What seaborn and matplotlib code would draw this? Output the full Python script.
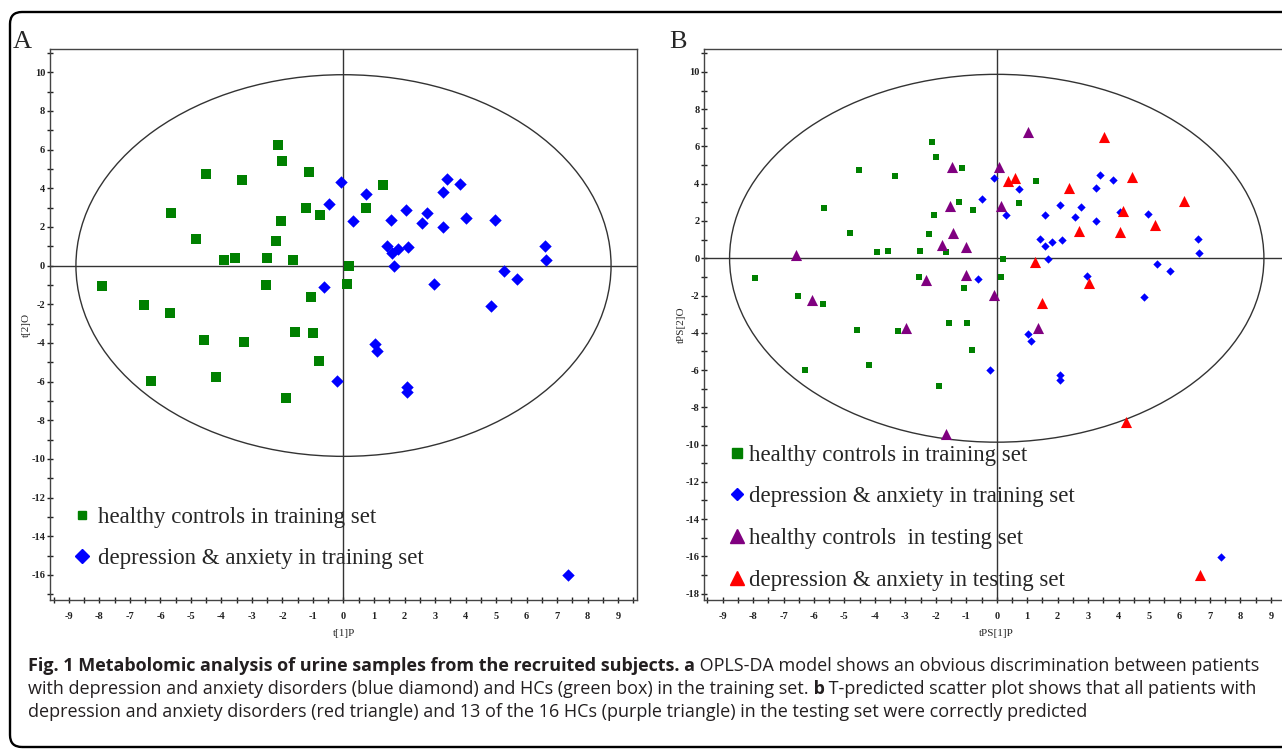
import numpy as np
import pandas as pd
import matplotlib
matplotlib.use('Agg')
import matplotlib.pyplot as plt
import seaborn as sns
from matplotlib.patches import Ellipse, FancyBboxPatch
from matplotlib.lines import Line2D
from matplotlib.text import Annotation
from matplotlib.ticker import MultipleLocator
from matplotlib.transforms import IdentityTransform

# scores (training set is the same in both panels)
hc_train_x = [-2.14, -2.0, -4.52, -3.34, -1.13, -5.67, -1.24, -0.77, -2.06, -4.83,
              -2.22, -3.93, -3.56, -2.51, -1.67, -7.93, -2.54, -1.08, -6.54, -5.69,
              -1.58, -0.99, -4.58, -3.25, -0.80, -6.31, -4.18, -1.89, 1.28, 0.73,
              0.19, 0.13]
hc_train_y = [6.22, 5.43, 4.71, 4.41, 4.84, 2.72, 3.0, 2.6, 2.31, 1.35,
              1.29, 0.31, 0.41, 0.41, 0.31, -1.05, -1.0, -1.62, -2.03, -2.43,
              -3.45, -3.50, -3.85, -3.93, -4.92, -5.97, -5.74, -6.87, 4.17, 2.95,
              -0.02, -0.98]
da_train_x = [-0.09, -0.47, -0.63, 0.74, 0.30, 1.57, 2.06, 2.75, 2.56, 3.25,
              3.40, 3.83, 3.25, 4.03, 4.96, 1.42, 1.80, 2.13, 1.58, 1.67,
              6.61, 6.63, 5.25, 5.69, 2.97, 4.83, 1.03, 1.11, -0.22, 2.09,
              2.09, 7.37]
da_train_y = [4.33, 3.19, -1.11, 3.71, 2.31, 2.34, 2.88, 2.74, 2.2, 1.98,
              4.48, 4.2, 3.78, 2.48, 2.38, 1.01, 0.88, 0.96, 0.67, -0.02,
              1.01, 0.29, -0.29, -0.69, -0.93, -2.07, -4.07, -4.43, -5.97, -6.29,
              -6.54, -16.02]
hc_test_x = [-1.46, -1.54, -1.43, -1.81, -1.0, -6.60, -2.31, -1.0, -6.05, -2.97,
             -1.68, 1.03, 0.07, 0.14, -0.1, 1.37]
hc_test_y = [4.92, 2.81, 1.34, 0.71, 0.62, 0.16, -1.16, -0.9, -2.24, -3.76,
             -9.45, 6.8, 4.88, 2.82, -1.95, -3.72]
da_test_x = [3.52, 0.37, 0.59, 2.37, 4.44, 6.14, 4.13, 5.18, 2.70, 4.05,
             1.25, 3.03, 1.47, 4.24, 6.67]
da_test_y = [6.53, 4.15, 4.29, 3.79, 4.38, 3.09, 2.56, 1.79, 1.47, 1.40,
             -0.22, -1.34, -2.42, -8.8, -17.0]

# Hotelling T2 ellipse half-axes
ell_x = 8.77
ell_y = 9.87

labels = ['healthy controls in training set', 'depression & anxiety in training set',
          'healthy controls  in testing set', 'depression & anxiety in testing set']
colors = ['#008000', '#0000ff', '#800080', '#ff0000']

sns.set_style('white')
plt.rcParams['font.family'] = ['Liberation Serif', 'DejaVu Serif']
plt.rcParams['axes.unicode_minus'] = False

W, H = 1282, 749
fig = plt.figure(figsize=(W / 100, H / 100), dpi=100)


def px_axes(left, right, top, bottom):
    return fig.add_axes([left / W, 1 - bottom / H, (right - left) / W, (bottom - top) / H])


def style_axes(ax, xl, yl, xlabel, ylabel):
    ax.set_xlim(*xl)
    ax.set_ylim(*yl)
    ax.axhline(0, color='#333333', lw=1, zorder=1)
    ax.axvline(0, color='#333333', lw=1, zorder=1)
    ax.add_patch(Ellipse((0, 0), 2 * ell_x, 2 * ell_y, fill=False, ec='#333333', lw=1, zorder=1))
    ax.xaxis.set_major_locator(MultipleLocator(1))
    ax.xaxis.set_minor_locator(MultipleLocator(0.5))
    ax.yaxis.set_major_locator(MultipleLocator(2))
    ax.yaxis.set_minor_locator(MultipleLocator(1))
    ax.tick_params(which='both', direction='inout', length=4, width=1, color='#222222',
                   bottom=True, left=True, top=False, right=False)
    ax.tick_params(axis='x', pad=6.5, labelsize=7.5, labelcolor='#222222')
    ax.tick_params(axis='y', pad=1.5, labelsize=7.5, labelcolor='#222222')
    for lab in ax.get_xticklabels() + ax.get_yticklabels():
        lab.set_fontweight('bold')
    for sp in ax.spines.values():
        sp.set_color('#444444')
        sp.set_linewidth(1)
    ax.set_xlabel(xlabel, fontsize=8, labelpad=6)
    ax.set_ylabel(ylabel, fontsize=8, labelpad=0)


# ---- panel A ----
axA = px_axes(50, 637.3, 49, 600)
sns.scatterplot(x=hc_train_x, y=hc_train_y, marker='s', color=colors[0], s=44, linewidth=0, ax=axA, zorder=3)
sns.scatterplot(x=da_train_x, y=da_train_y, marker='D', color=colors[1], s=40, linewidth=0, ax=axA, zorder=3)
style_axes(axA, (-9.62, 9.63), (-17.3, 11.2), 't[1]P', 't[2]O')
hA = [Line2D([], [], marker='s', color=colors[0], ls='', markersize=5.8),
      Line2D([], [], marker='D', color=colors[1], ls='', markersize=6.8)]
axA.legend(hA, labels[:2], loc='upper left', bbox_to_anchor=(0.019, 0.19), frameon=False,
           fontsize=16.5, handlelength=0.8, handletextpad=0.3, labelspacing=0.9, borderpad=0)

# ---- panel B ----
axB = px_axes(704.3, 1289.2, 49, 600)
sns.scatterplot(x=hc_train_x, y=hc_train_y, marker='s', color=colors[0], s=25, linewidth=0, ax=axB, zorder=3)
sns.scatterplot(x=da_train_x, y=da_train_y, marker='D', color=colors[1], s=18, linewidth=0, ax=axB, zorder=3)
sns.scatterplot(x=hc_test_x, y=hc_test_y, marker='^', color=colors[2], s=64, linewidth=0, ax=axB, zorder=3)
sns.scatterplot(x=da_test_x, y=da_test_y, marker='^', color=colors[3], s=64, linewidth=0, ax=axB, zorder=3)
style_axes(axB, (-9.6, 9.6), (-18.34, 11.23), 'tPS[1]P', 'tPS[2]O')
hB = [Line2D([], [], marker='s', color=colors[0], ls='', markersize=6.5),
      Line2D([], [], marker='D', color=colors[1], ls='', markersize=6.5),
      Line2D([], [], marker='^', color=colors[2], ls='', markersize=9.5),
      Line2D([], [], marker='^', color=colors[3], ls='', markersize=9.5)]
axB.legend(hB, labels, loc='upper left', bbox_to_anchor=(0.020, 0.303), frameon=False,
           fontsize=16.5, handlelength=0.8, handletextpad=0.15, labelspacing=0.91, borderpad=0)

# panel letters
fig.text(13 / W, 1 - 48 / H, 'A', fontsize=19, va='baseline')
fig.text(669 / W, 1 - 48 / H, 'B', fontsize=19, va='baseline')

# outer rounded frame
frame = FancyBboxPatch((10, 2), 1320, 735, boxstyle='round,pad=0,rounding_size=12',
                       transform=IdentityTransform(), fill=False, ec='black', lw=1.7)
fig.patches.append(frame)

# caption, bold and regular runs chained one after another
cap_lines = [
    [('Fig. 1 Metabolomic analysis of urine samples from the recruited subjects. a', 'bold'),
     (' OPLS-DA model shows an obvious discrimination between patients', 'normal')],
    [('with depression and anxiety disorders (blue diamond) and HCs (green box) in the training set.', 'normal'),
     (' b', 'bold'),
     (' T-predicted scatter plot shows that all patients with', 'normal')],
    [('depression and anxiety disorders (red triangle) and 13 of the 16 HCs (purple triangle) in the testing set were correctly predicted', 'normal')],
]
cap_bottoms = [675, 698, 721]
cap_font = ['Open Sans', 'DejaVu Sans']
cap_size = 13
for runs, yb in zip(cap_lines, cap_bottoms):
    prev = None
    for txt, wt in runs:
        if prev is None:
            prev = fig.text(28 / W, 1 - yb / H, txt, fontsize=cap_size, fontweight=wt,
                            family=cap_font, color='#231f20', va='bottom')
        else:
            prev = fig.add_artist(Annotation(
                txt, xy=(1, 0), xycoords=prev, va='bottom', ha='left', fontsize=cap_size,
                fontweight=wt, family=cap_font, color='#231f20'))

fig.savefig('out.png', dpi=100)
